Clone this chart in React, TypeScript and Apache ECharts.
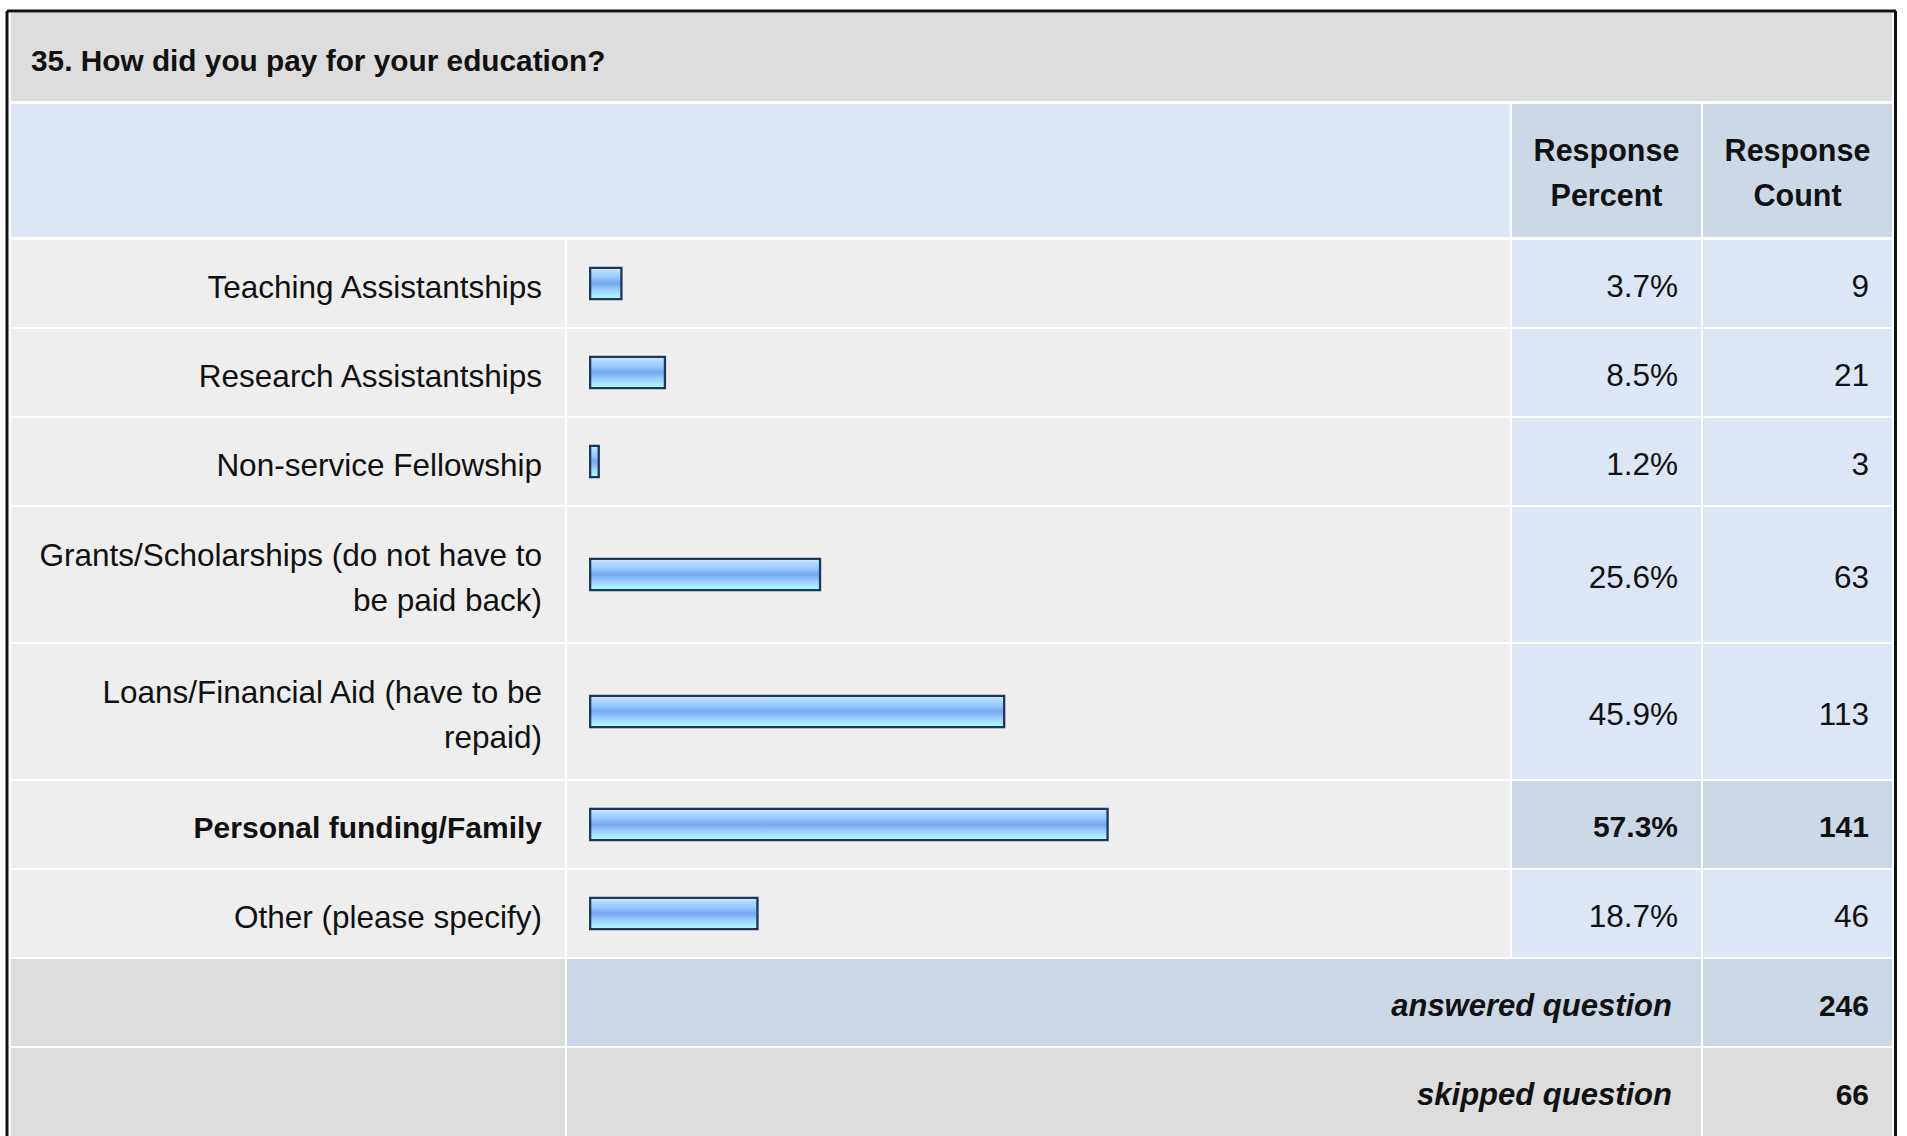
import React, { useEffect, useRef } from "react";
import * as echarts from "echarts";

// ---- data ----
const questionTitle = "35. How did you pay for your education?";
const headerPercent = ["Response", "Percent"];
const headerCount = ["Response", "Count"];
const categories = [
  "Teaching Assistantships",
  "Research Assistantships",
  "Non-service Fellowship",
  "Grants/Scholarships (do not have to\nbe paid back)",
  "Loans/Financial Aid (have to be\nrepaid)",
  "Personal funding/Family",
  "Other (please specify)",
];
const percents = [3.7, 8.5, 1.2, 25.6, 45.9, 57.3, 18.7];
const counts = [9, 21, 3, 63, 113, 141, 46];
const highlighted = [false, false, false, false, false, true, false];
const summaryLabels = ["answered question", "skipped question"];
const summaryValues = [246, 66];

// ---- layout ----
const FONT = "'Liberation Sans', Arial, Helvetica, sans-serif";
const FS = 31.5;
const FSB = 30;
const W = 1907;
const H = 1136;
const C0 = [11, 565];
const C1 = [567, 1510];
const C2 = [1512, 1701];
const C3 = [1703, 1892];
const ROW_SINGLE = 87;
const ROW_DOUBLE = 135;
const GAP = 2;
const FIRST_ROW = 240;
const BAR_LEFT = 589;
const BAR_FULL = 907;

const GRAY = "#dddddd";
const LIGHT = "#eeeeee";
const BLUE = "#dce6f4";
const BLUE2 = "#ccd8e6";

export default function App() {
  const ref = useRef<HTMLDivElement>(null);

  useEffect(() => {
    if (!ref.current) return;
    const chart = echarts.init(ref.current, null, { renderer: "svg" });

    // row positions
    const rowTops: number[] = [];
    const rowHs: number[] = [];
    let y = FIRST_ROW;
    categories.forEach((c) => {
      const h = c.includes("\n") ? ROW_DOUBLE : ROW_SINGLE;
      rowTops.push(y);
      rowHs.push(h);
      y += h + GAP;
    });
    const sumTops: number[] = [];
    summaryLabels.forEach((_, i) => {
      sumTops.push(y);
      y += (i === summaryLabels.length - 1 ? 120 : ROW_SINGLE) + GAP;
    });

    const rect = (x0: number, x1: number, y0: number, h: number, fill: string) => ({
      type: "rect",
      z: 0,
      silent: true,
      shape: { x: x0, y: y0, width: x1 - x0, height: h },
      style: { fill },
    });
    const text = (
      str: string,
      x: number,
      yy: number,
      align: string,
      weight: string = "normal",
      fontStyle: string = "normal",
      size: number = FS
    ) => ({
      type: "text",
      z: 10,
      silent: true,
      x,
      y: yy,
      style: {
        text: str,
        fill: "#111111",
        fontSize: size,
        fontWeight: weight,
        fontStyle,
        fontFamily: FONT,
        align,
        verticalAlign: "middle",
      },
    });

    const elements: any[] = [];
    // title
    elements.push(rect(C0[0], C3[1], 13, 88, GRAY));
    elements.push(text(questionTitle, 31, 60, "left", "bold", "normal", 29.8));
    // header
    elements.push(rect(C0[0], C1[1], 104, 133, BLUE));
    elements.push(rect(C2[0], C2[1], 104, 133, BLUE2));
    elements.push(rect(C3[0], C3[1], 104, 133, BLUE2));
    headerPercent.forEach((t, i) =>
      elements.push(text(t, (C2[0] + C2[1]) / 2, 150 + i * 45, "center", "bold", "normal", 30.5))
    );
    headerCount.forEach((t, i) =>
      elements.push(text(t, (C3[0] + C3[1]) / 2, 150 + i * 45, "center", "bold", "normal", 30.5))
    );
    // data rows
    categories.forEach((_, i) => {
      const t = rowTops[i];
      const h = rowHs[i];
      const hl = highlighted[i];
      elements.push(rect(C0[0], C0[1], t, h, LIGHT));
      elements.push(rect(C1[0], C1[1], t, h, LIGHT));
      elements.push(rect(C2[0], C2[1], t, h, hl ? BLUE2 : BLUE));
      elements.push(rect(C3[0], C3[1], t, h, hl ? BLUE2 : BLUE));
      const cy = t + h / 2 + 2;
      elements.push(
        text(percents[i].toFixed(1) + "%", 1678, cy, "right", hl ? "bold" : "normal", "normal", hl ? FSB : FS)
      );
      elements.push(
        text(String(counts[i]), 1869, cy, "right", hl ? "bold" : "normal", "normal", hl ? FSB : FS)
      );
    });
    // summary rows
    summaryLabels.forEach((lab, i) => {
      const t = sumTops[i];
      const h = i === summaryLabels.length - 1 ? 120 : ROW_SINGLE;
      const mid = i === 0 ? BLUE2 : GRAY;
      elements.push(rect(C0[0], C0[1], t, h, GRAY));
      elements.push(rect(C1[0], C2[1], t, h, mid));
      elements.push(rect(C3[0], C3[1], t, h, mid));
      const cy = t + ROW_SINGLE / 2 + 3;
      elements.push(text(lab, 1672, cy, "right", "bold", "italic", 31));
      elements.push(text(String(summaryValues[i]), 1869, cy, "right", "bold", "normal", FSB));
    });
    // outer border
    const border = { stroke: "#111111", lineWidth: 3 };
    elements.push({ type: "line", z: 20, silent: true, shape: { x1: 7, y1: 11, x2: 1896, y2: 11 }, style: border });
    elements.push({ type: "line", z: 20, silent: true, shape: { x1: 7, y1: 11, x2: 7, y2: H + 5 }, style: border });
    elements.push({ type: "line", z: 20, silent: true, shape: { x1: 1895.5, y1: 11, x2: 1895.5, y2: H + 5 }, style: border });

    const grids: any[] = [];
    const xAxes: any[] = [];
    const yAxes: any[] = [];
    const series: any[] = [];
    categories.forEach((cat, i) => {
      const hl = highlighted[i];
      const tok = {
        fontSize: hl ? FSB : FS,
        fontFamily: FONT,
        fontWeight: hl ? "bold" : "normal",
        color: "#111111",
        align: "right",
        lineHeight: 45,
        padding: [6, 0, 0, 0],
      };
      grids.push({ left: BAR_LEFT, width: BAR_FULL, top: rowTops[i], height: rowHs[i], containLabel: false });
      xAxes.push({ gridIndex: i, type: "value", min: 0, max: 100, show: false });
      yAxes.push({
        gridIndex: i,
        type: "category",
        data: [cat],
        z: 5,
        axisLine: { show: false },
        axisTick: { show: false },
        splitLine: { show: false },
        axisLabel: {
          margin: 47,
          align: "right",
          formatter: (v: string) =>
            v
              .split("\n")
              .map((s) => "{t|" + s + "}")
              .join("\n"),
          rich: { t: tok },
        },
      });
      series.push({
        type: "bar",
        xAxisIndex: i,
        yAxisIndex: i,
        z: 5,
        barWidth: 33.5,
        data: [percents[i]],
        itemStyle: {
          borderColor: "#1e3658",
          borderWidth: 2.3,
          color: new echarts.graphic.LinearGradient(0, 0, 0, 1, [
            { offset: 0, color: "#d4ecff" },
            { offset: 0.14, color: "#aed8ff" },
            { offset: 0.3, color: "#99ccff" },
            { offset: 0.42, color: "#82b5f3" },
            { offset: 0.5, color: "#76a9ee" },
            { offset: 0.58, color: "#82b6f4" },
            { offset: 0.7, color: "#99ccff" },
            { offset: 0.85, color: "#a8e6ff" },
            { offset: 1, color: "#aaffff" },
          ]),
        },
      });
    });

    chart.setOption({
      animation: false,
      backgroundColor: "#ffffff",
      textStyle: { fontFamily: FONT },
      grid: grids,
      xAxis: xAxes,
      yAxis: yAxes,
      series,
      graphic: { elements },
    });
    return () => chart.dispose();
  }, []);

  return (
    <div
      ref={ref}
      style={{ position: "fixed", left: 0, top: 0, width: W, height: H }}
    />
  );
}
